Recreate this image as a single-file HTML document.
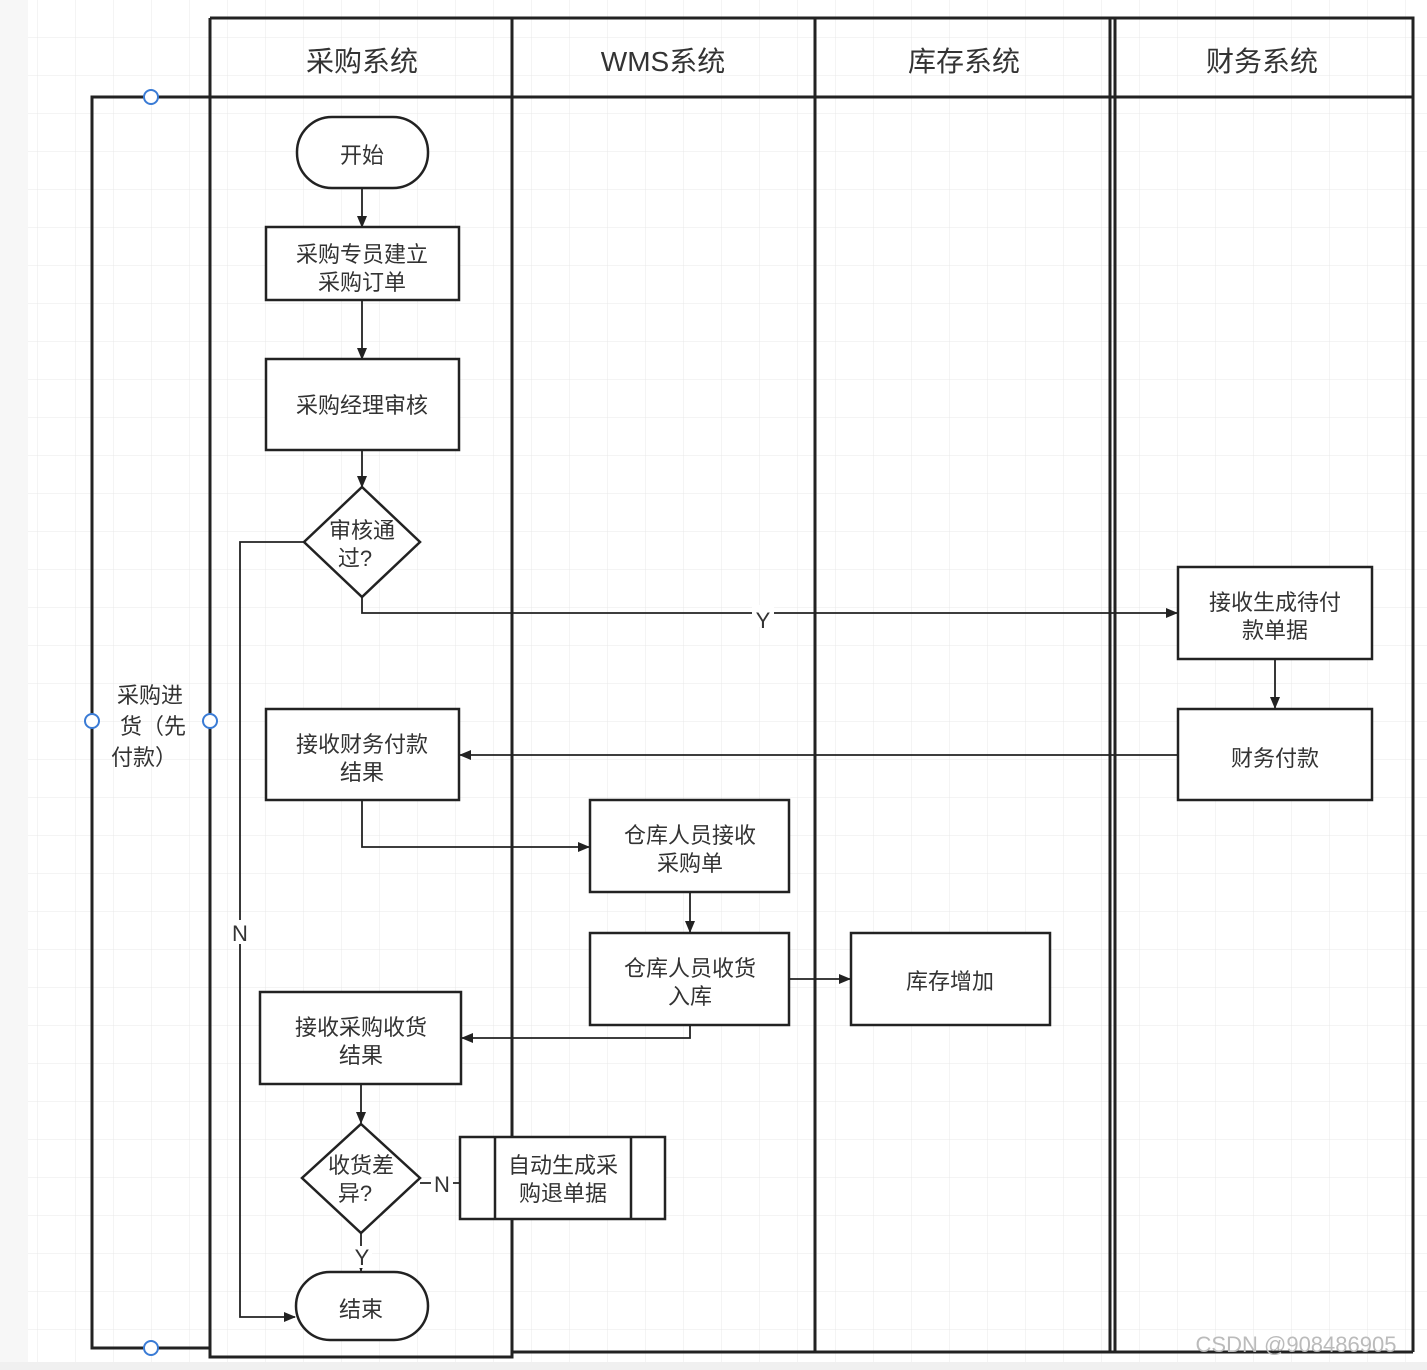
<!DOCTYPE html>
<html><head><meta charset="utf-8"><style>
body{margin:0;background:#fff}
svg{display:block}
text{font-family:"Liberation Sans","Noto Sans CJK SC",sans-serif;fill:#333;font-size:22px;text-anchor:middle}
text.h{font-size:28px}
</style></head><body>
<svg width="1427" height="1370" viewBox="0 0 1427 1370" xmlns="http://www.w3.org/2000/svg">
<defs>
<pattern id="g" width="38" height="38" patternUnits="userSpaceOnUse" x="0" y="0">
<path d="M38 0V38M0 38H38" stroke="#e8e8e8" stroke-width="1" fill="none"/>
</pattern>
<marker id="a" markerWidth="12" markerHeight="10" refX="11" refY="5" orient="auto" markerUnits="userSpaceOnUse">
<path d="M0 0L12 5L0 10z" fill="#222"/>
</marker>
</defs>
<rect width="1427" height="1370" fill="#fff"/>
<rect x="28" y="0" width="1399" height="1362" fill="url(#g)"/>
<rect x="0" y="0" width="28" height="1370" fill="#f7f7f7"/>
<rect x="0" y="1362" width="1427" height="8" fill="#f0f0f0"/>
<g stroke="#222" stroke-width="3" fill="none">
<rect x="92" y="97" width="118" height="1251"/>
<path d="M210 18H1413V1352M210 18V1357H512V18M512 1352H1413M815 18V1352M1110 18V1352M1115 18V1352M210 97H1413"/>
</g>
<g fill="#fff" stroke="#3a7bd5" stroke-width="2">
<circle cx="151" cy="97" r="7"/><circle cx="92" cy="721" r="7"/><circle cx="210" cy="721" r="7"/><circle cx="151" cy="1348" r="7"/>
</g>
<text class="h" x="362" y="71">采购系统</text><text class="h" x="663" y="71">WMS系统</text><text class="h" x="964" y="71">库存系统</text><text class="h" x="1262" y="71">财务系统</text>
<text x="150" y="703">采购进</text><text x="153" y="734">货（先</text><text x="144" y="765">付款）</text>
<g stroke="#222" stroke-width="2.5" fill="#fff">
<rect x="297" y="117" width="131" height="71" rx="35"/>
<rect x="266" y="227" width="193" height="73"/>
<rect x="266" y="359" width="193" height="91"/>
<path d="M362 487L420 542L362 597L304 542z"/>
<rect x="1178" y="567" width="194" height="92"/>
<rect x="1178" y="709" width="194" height="91"/>
<rect x="266" y="709" width="193" height="91"/>
<rect x="590" y="800" width="199" height="92"/>
<rect x="590" y="933" width="199" height="92"/>
<rect x="851" y="933" width="199" height="92"/>
<rect x="260" y="992" width="201" height="92"/>
<path d="M361 1124L420 1178L361 1233L302 1178z"/>
<rect x="460" y="1137" width="205" height="82"/>
<path d="M495 1137V1219M631 1137V1219" fill="none"/>
<rect x="296" y="1272" width="132" height="68" rx="34"/>
</g>
<g stroke="#222" stroke-width="1.8" fill="none" marker-end="url(#a)">
<path d="M362 188V227"/>
<path d="M362 300V359"/>
<path d="M362 450V487"/>
<path d="M362 597V613H1177"/>
<path d="M1275 659V708"/>
<path d="M1178 755H460"/>
<path d="M362 800V847H589"/>
<path d="M690 892V932"/>
<path d="M789 979H850"/>
<path d="M690 1025V1038H462"/>
<path d="M361 1084V1123"/>
<path d="M361 1233V1271"/>
<path d="M304 542H240V1317H295"/>
<path d="M420 1183H460" marker-end="none"/>
</g>
<rect x="752" y="605" width="22" height="22" fill="#fff"/><text x="763" y="628">Y</text>
<rect x="229" y="920" width="22" height="24" fill="#fff"/><text x="240" y="941">N</text>
<rect x="431" y="1172" width="22" height="24" fill="#fff"/><text x="442" y="1192">N</text>
<rect x="350" y="1246" width="22" height="22" fill="#fff"/><text x="362" y="1265">Y</text>
<text x="362" y="163">开始</text>
<text x="362" y="262">采购专员建立</text><text x="362" y="290">采购订单</text>
<text x="362" y="413">采购经理审核</text>
<text x="362" y="538">审核通</text><text x="355" y="566">过?</text>
<text x="1275" y="610">接收生成待付</text><text x="1275" y="638">款单据</text>
<text x="1275" y="766">财务付款</text>
<text x="362" y="752">接收财务付款</text><text x="362" y="780">结果</text>
<text x="690" y="843">仓库人员接收</text><text x="690" y="871">采购单</text>
<text x="690" y="976">仓库人员收货</text><text x="690" y="1004">入库</text>
<text x="950" y="989">库存增加</text>
<text x="361" y="1035">接收采购收货</text><text x="361" y="1063">结果</text>
<text x="361" y="1173">收货差</text><text x="355" y="1201">异?</text>
<text x="563" y="1173">自动生成采</text><text x="563" y="1201">购退单据</text>
<text x="361" y="1317">结束</text>
<text x="1296" y="1352" style="fill:#bbb;font-size:22px">CSDN @908486905</text>
</svg>
</body></html>
